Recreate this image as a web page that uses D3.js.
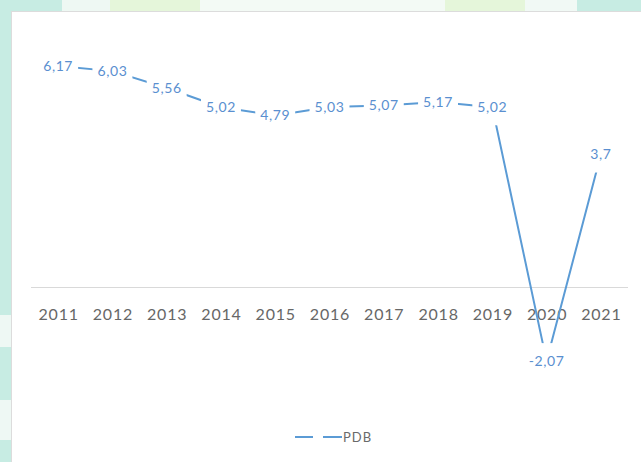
<!DOCTYPE html>
<html>
<head>
<meta charset="utf-8">
<script src="https://cdn.jsdelivr.net/npm/d3@7/dist/d3.min.js"></script>
<style>
  html, body { margin: 0; padding: 0; background: #ffffff; }
  svg { display: block; }
</style>
</head>
<body>
<svg id="chart" width="641" height="462"></svg>
<script>
// Annual GDP growth (%)
const years = ["2011", "2012", "2013", "2014", "2015", "2016", "2017", "2018", "2019", "2020", "2021"];
const pdb = [6.17, 6.03, 5.56, 5.02, 4.79, 5.03, 5.07, 5.17, 5.02, -2.07, 3.7];
const labels = ["6,17", "6,03", "5,56", "5,02", "4,79", "5,03", "5,07", "5,17", "5,02", "-2,07", "3,7"];
const seriesName = "PDB";

const W = 641, H = 462;
const svg = d3.select("#chart");

// page backdrop around the chart card
const backdrop = svg.append("g");
backdrop.append("rect").attr("width", W).attr("height", H).attr("fill", "#c7ece3");
const topBands = [
  [62, 110, "#eef8f3"], [110, 200, "#e5f6da"], [200, 445, "#f3faf5"],
  [445, 525, "#e5f6da"], [525, 577, "#f1f9f5"]
];
topBands.forEach(([x0, x1, c]) =>
  backdrop.append("rect").attr("x", x0).attr("y", 0).attr("width", x1 - x0).attr("height", 12).attr("fill", c));
const leftBands = [[315, 347, "#eef8f4"], [400, 440, "#eef8f4"]];
leftBands.forEach(([y0, y1, c]) =>
  backdrop.append("rect").attr("x", 0).attr("y", y0).attr("width", 12).attr("height", y1 - y0).attr("fill", c));

// chart card
svg.append("rect")
  .attr("x", 11.5).attr("y", 11.5).attr("width", W - 11).attr("height", H - 11)
  .attr("fill", "#ffffff").attr("stroke", "#dcdcdc");

// scales
const x = d3.scalePoint().domain(years).range([31, 628]).padding(0.5);
const y = d3.scaleLinear().domain([-3, 7]).range([394.4, 36.4]);

// category axis on the zero line
const axis = d3.axisBottom(x).tickSize(0).tickPadding(0);
const axisG = svg.append("g").attr("transform", `translate(0,${y(0)})`).call(axis);
axisG.select(".domain").attr("d", `M31,0.5H628`).attr("stroke", "#d9d9d9").attr("stroke-width", 1);
axisG.selectAll(".tick text")
  .attr("y", 27).attr("dy", "0.35em")
  .attr("fill", "#676767")
  .style("font-family", "Lato, 'Open Sans', sans-serif")
  .style("font-size", "16px")
  .style("letter-spacing", "0.8px");

// series line
const blue = "#5b9bd5";
const line = d3.line().x((d, i) => x(years[i])).y(d => y(d));
svg.append("path")
  .datum(pdb)
  .attr("d", line)
  .attr("fill", "none")
  .attr("stroke", blue)
  .attr("stroke-width", 2)
  .attr("stroke-linejoin", "round");

// data labels with white boxes centred on the points
const lab = svg.append("g")
  .style("font-family", "Lato, 'Open Sans', sans-serif")
  .style("font-size", "14px")
  .style("letter-spacing", "0.6px");
pdb.forEach((v, i) => {
  const cx = x(years[i]), cy = y(v);
  const g = lab.append("g");
  const box = g.append("rect").attr("fill", "#ffffff");
  const t = g.append("text")
    .attr("x", cx).attr("y", cy).attr("dy", "0.35em")
    .attr("text-anchor", "middle")
    .attr("fill", "#5a8fd0")
    .text(labels[i]);
  const w = t.node().getComputedTextLength();
  box.attr("x", cx - w / 2 - 5).attr("y", cy - 18).attr("width", w + 10).attr("height", 36);
});

// legend
const lg = svg.append("g").attr("transform", "translate(0,437)");
lg.append("line").attr("x1", 295).attr("x2", 342).attr("y1", 0).attr("y2", 0)
  .attr("stroke", blue).attr("stroke-width", 2);
lg.append("rect").attr("x", 313).attr("y", -4).attr("width", 10).attr("height", 8).attr("fill", "#ffffff");
lg.append("text").attr("x", 343).attr("y", 0).attr("dy", "0.35em")
  .attr("fill", "#6a6a6a")
  .style("font-family", "Lato, 'Open Sans', sans-serif")
  .style("font-size", "13px")
  .style("letter-spacing", "1px")
  .text(seriesName);
</script>
</body>
</html>
